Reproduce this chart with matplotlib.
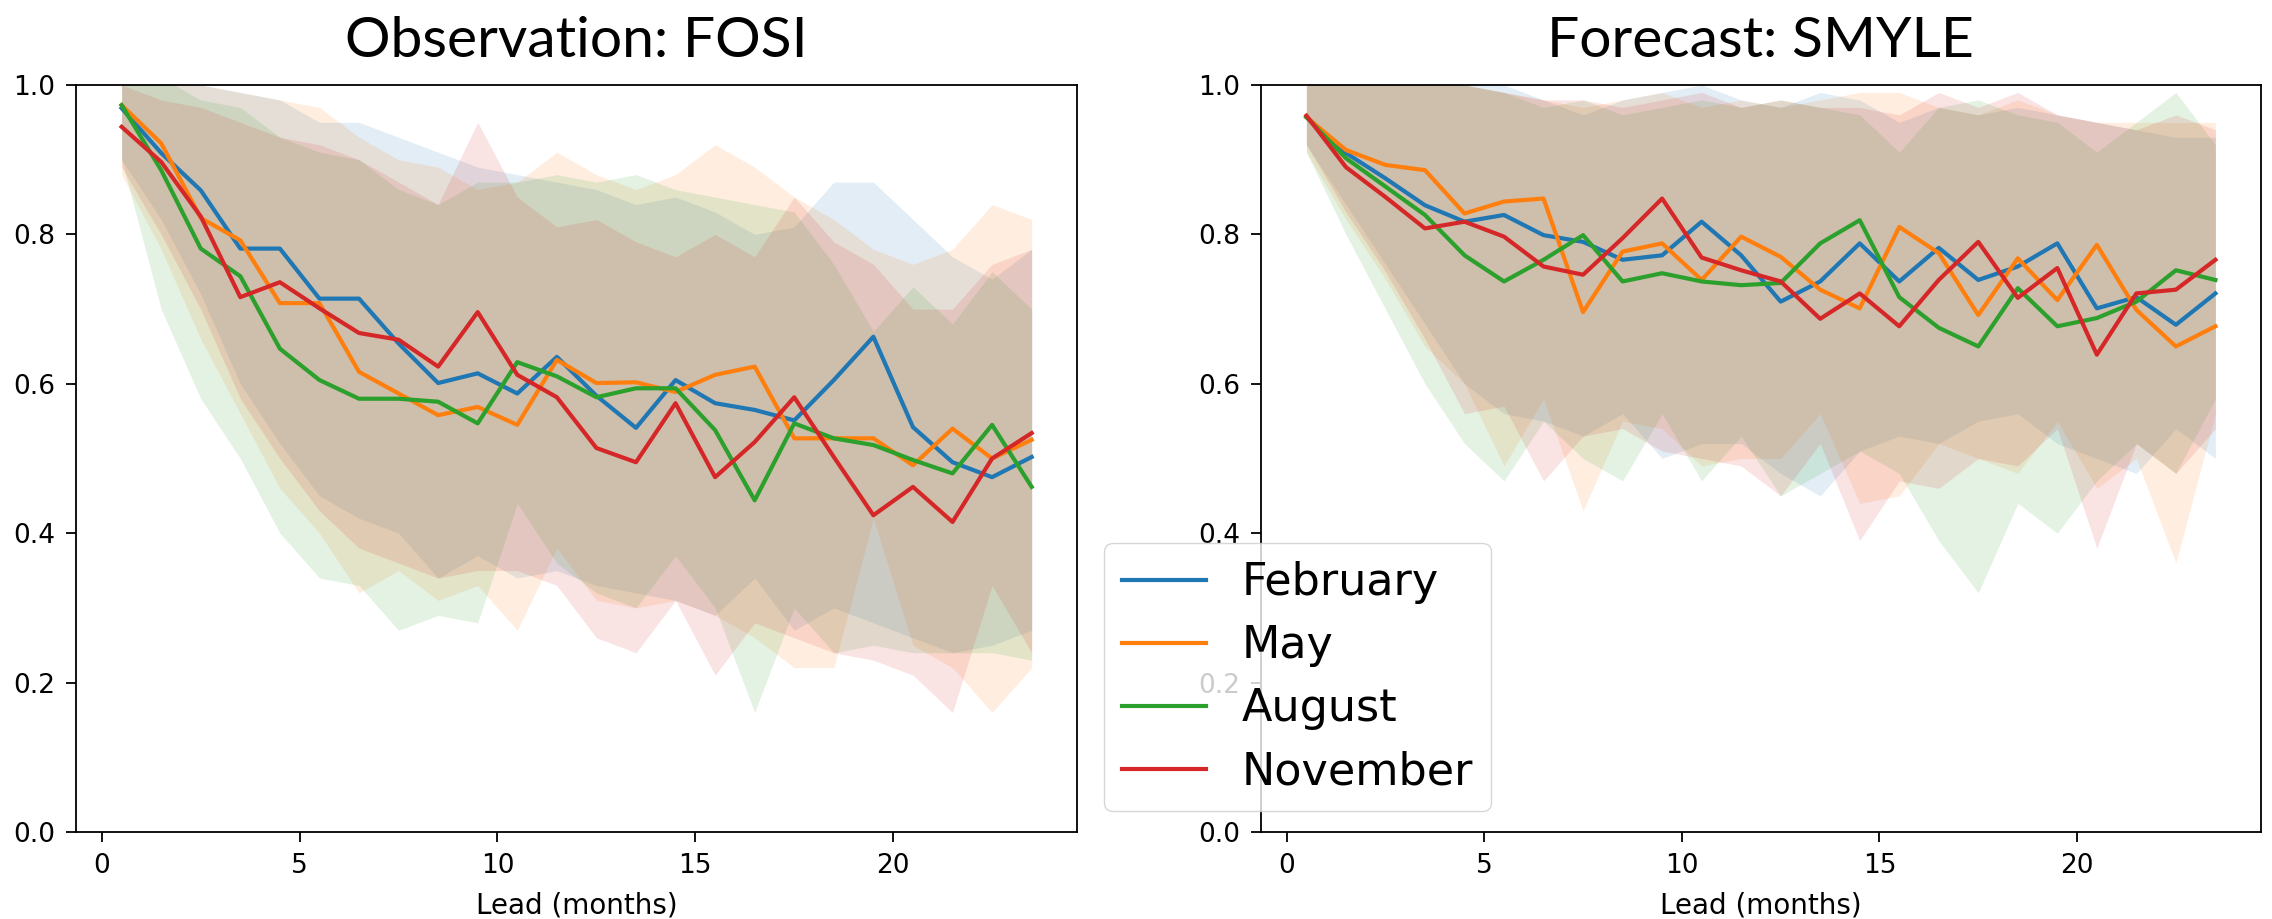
import numpy as np
import matplotlib
matplotlib.use("Agg")
import matplotlib.pyplot as plt

lead = np.arange(0.5, 24, 1.0)
months = ["February", "May", "August", "November"]
colors = ["tab:blue", "tab:orange", "tab:green", "tab:red"]

# Observation: FOSI
fosi_feb = [0.969, 0.909, 0.859, 0.781, 0.781, 0.714, 0.714, 0.654, 0.601, 0.614, 0.587, 0.636,
            0.584, 0.541, 0.605, 0.574, 0.565, 0.551, 0.605, 0.663, 0.542, 0.495, 0.475, 0.502]
fosi_may = [0.973, 0.922, 0.822, 0.792, 0.708, 0.708, 0.616, 0.587, 0.558, 0.569, 0.545, 0.632,
            0.601, 0.602, 0.589, 0.612, 0.623, 0.527, 0.527, 0.527, 0.491, 0.540, 0.500, 0.525]
fosi_aug = [0.973, 0.886, 0.781, 0.744, 0.647, 0.605, 0.580, 0.580, 0.576, 0.547, 0.629, 0.610,
            0.582, 0.594, 0.594, 0.538, 0.444, 0.547, 0.527, 0.518, 0.498, 0.480, 0.545, 0.462]
fosi_nov = [0.944, 0.897, 0.824, 0.716, 0.736, 0.701, 0.668, 0.659, 0.623, 0.696, 0.612, 0.582,
            0.514, 0.495, 0.574, 0.475, 0.522, 0.582, 0.502, 0.424, 0.462, 0.415, 0.500, 0.534]

fosi_feb_hi = [1.04, 1.03, 1.00, 0.99, 0.98, 0.95, 0.95, 0.93, 0.91, 0.89, 0.88, 0.87,
               0.86, 0.84, 0.85, 0.83, 0.80, 0.81, 0.87, 0.87, 0.82, 0.77, 0.74, 0.78]
fosi_may_hi = [1.02, 1.02, 1.00, 0.99, 0.98, 0.97, 0.93, 0.90, 0.89, 0.86, 0.87, 0.91,
               0.88, 0.86, 0.88, 0.92, 0.89, 0.85, 0.82, 0.78, 0.76, 0.78, 0.84, 0.82]
fosi_aug_hi = [1.03, 1.01, 0.98, 0.97, 0.93, 0.91, 0.90, 0.86, 0.84, 0.87, 0.87, 0.88,
               0.87, 0.88, 0.86, 0.85, 0.84, 0.83, 0.76, 0.67, 0.73, 0.68, 0.75, 0.70]
fosi_nov_hi = [1.00, 0.98, 0.97, 0.95, 0.93, 0.92, 0.90, 0.87, 0.84, 0.95, 0.85, 0.81,
               0.82, 0.79, 0.77, 0.80, 0.77, 0.85, 0.79, 0.76, 0.70, 0.70, 0.76, 0.78]

fosi_feb_lo = [0.90, 0.82, 0.72, 0.60, 0.52, 0.45, 0.42, 0.40, 0.34, 0.37, 0.34, 0.35,
               0.33, 0.32, 0.31, 0.29, 0.34, 0.27, 0.30, 0.28, 0.26, 0.24, 0.25, 0.27]
fosi_may_lo = [0.88, 0.78, 0.66, 0.56, 0.46, 0.40, 0.32, 0.35, 0.31, 0.33, 0.27, 0.38,
               0.31, 0.30, 0.31, 0.29, 0.26, 0.22, 0.22, 0.42, 0.25, 0.22, 0.16, 0.22]
fosi_aug_lo = [0.90, 0.70, 0.58, 0.50, 0.40, 0.34, 0.33, 0.27, 0.29, 0.28, 0.44, 0.36,
               0.32, 0.30, 0.37, 0.30, 0.16, 0.30, 0.24, 0.25, 0.24, 0.24, 0.24, 0.23]
fosi_nov_lo = [0.89, 0.80, 0.70, 0.58, 0.50, 0.43, 0.38, 0.36, 0.34, 0.35, 0.35, 0.33,
               0.26, 0.24, 0.31, 0.21, 0.28, 0.26, 0.24, 0.23, 0.21, 0.16, 0.33, 0.24]

# Forecast: SMYLE
smyle_feb = [0.957, 0.909, 0.875, 0.839, 0.817, 0.826, 0.799, 0.790, 0.766, 0.772, 0.817, 0.772,
             0.710, 0.737, 0.788, 0.737, 0.782, 0.739, 0.757, 0.788, 0.701, 0.716, 0.679, 0.721]
smyle_may = [0.957, 0.913, 0.893, 0.886, 0.828, 0.844, 0.848, 0.696, 0.777, 0.788, 0.739, 0.797,
             0.770, 0.726, 0.701, 0.810, 0.775, 0.692, 0.768, 0.712, 0.786, 0.699, 0.650, 0.677]
smyle_aug = [0.957, 0.902, 0.864, 0.826, 0.772, 0.737, 0.766, 0.799, 0.737, 0.748, 0.737, 0.732,
             0.735, 0.788, 0.819, 0.716, 0.675, 0.650, 0.728, 0.677, 0.688, 0.710, 0.752, 0.739]
smyle_nov = [0.959, 0.890, 0.850, 0.808, 0.817, 0.797, 0.757, 0.746, 0.795, 0.848, 0.769, 0.752,
             0.737, 0.687, 0.721, 0.677, 0.739, 0.790, 0.715, 0.755, 0.639, 0.721, 0.726, 0.766]

smyle_feb_hi = [1.00, 1.02, 1.02, 1.01, 1.00, 1.00, 0.98, 0.96, 0.98, 0.99, 1.00, 0.98,
                0.97, 0.99, 0.98, 0.95, 0.97, 0.96, 0.97, 0.96, 0.95, 0.94, 0.93, 0.93]
smyle_may_hi = [1.00, 1.02, 1.03, 1.02, 1.00, 0.99, 0.98, 0.97, 0.98, 0.99, 0.97, 0.98,
                0.97, 0.98, 0.99, 0.99, 0.97, 0.96, 0.98, 0.96, 0.95, 0.95, 0.95, 0.95]
smyle_aug_hi = [1.00, 1.01, 1.02, 1.00, 1.00, 0.99, 0.97, 0.98, 0.96, 0.97, 0.98, 0.97,
                0.98, 0.97, 0.96, 0.91, 0.97, 0.98, 0.96, 0.95, 0.91, 0.95, 0.99, 0.92]
smyle_nov_hi = [1.00, 1.01, 1.02, 1.00, 1.00, 0.99, 0.98, 0.98, 0.97, 0.98, 0.99, 0.97,
                0.98, 0.97, 0.97, 0.96, 0.99, 0.97, 0.99, 0.96, 0.95, 0.94, 0.96, 0.94]

smyle_feb_lo = [0.92, 0.84, 0.76, 0.68, 0.60, 0.56, 0.55, 0.53, 0.56, 0.50, 0.52, 0.52,
                0.48, 0.45, 0.51, 0.53, 0.52, 0.55, 0.56, 0.52, 0.50, 0.48, 0.54, 0.50]
smyle_may_lo = [0.91, 0.82, 0.74, 0.65, 0.60, 0.49, 0.58, 0.43, 0.55, 0.54, 0.49, 0.50,
                0.50, 0.56, 0.44, 0.45, 0.52, 0.50, 0.48, 0.55, 0.46, 0.50, 0.36, 0.56]
smyle_aug_lo = [0.91, 0.80, 0.70, 0.60, 0.52, 0.47, 0.55, 0.50, 0.47, 0.56, 0.47, 0.53,
                0.45, 0.48, 0.51, 0.48, 0.39, 0.32, 0.44, 0.40, 0.47, 0.52, 0.48, 0.58]
smyle_nov_lo = [0.92, 0.83, 0.75, 0.66, 0.56, 0.57, 0.47, 0.53, 0.54, 0.51, 0.50, 0.49,
                0.45, 0.52, 0.39, 0.47, 0.46, 0.50, 0.49, 0.54, 0.38, 0.52, 0.48, 0.54]

panels = [
    ("Observation: FOSI",
     [fosi_feb, fosi_may, fosi_aug, fosi_nov],
     [fosi_feb_lo, fosi_may_lo, fosi_aug_lo, fosi_nov_lo],
     [fosi_feb_hi, fosi_may_hi, fosi_aug_hi, fosi_nov_hi]),
    ("Forecast: SMYLE",
     [smyle_feb, smyle_may, smyle_aug, smyle_nov],
     [smyle_feb_lo, smyle_may_lo, smyle_aug_lo, smyle_nov_lo],
     [smyle_feb_hi, smyle_may_hi, smyle_aug_hi, smyle_nov_hi]),
]

fig = plt.figure(figsize=(22.72, 9.19), dpi=100)
ax_l = fig.add_axes([0.0335, 0.0947, 0.4406, 0.8128])
ax_r = fig.add_axes([0.555, 0.0947, 0.4401, 0.8128])

handles = []
for ax, (title, means, los, his) in zip([ax_l, ax_r], panels):
    for m, c, lo, hi in zip(months, colors, los, his):
        ax.fill_between(lead, lo, hi, color=c, alpha=0.13, linewidth=0)
    hs = []
    for m, c, y in zip(months, colors, means):
        h, = ax.plot(lead, y, color=c, linewidth=3.0, label=m)
        hs.append(h)
    handles = hs
    ax.set_ylim(0, 1)
    ax.set_yticks([0.0, 0.2, 0.4, 0.6, 0.8, 1.0])
    ax.set_xticks([0, 5, 10, 15, 20])
    ax.tick_params(labelsize=19, length=7, width=1.3, pad=8)
    for s in ax.spines.values():
        s.set_linewidth(1.3)
    ax.set_xlabel("Lead (months)", fontsize=20, labelpad=9)
    ax.set_title(title, fontsize=41, family=["Lato", "DejaVu Sans"], pad=20)

fig.legend(handles, months, loc="lower left", bbox_to_anchor=(0.486, 0.1175),
           borderaxespad=0, fontsize=32, handlelength=1.9, labelspacing=0.45)

fig.savefig("out.png", dpi=100)
